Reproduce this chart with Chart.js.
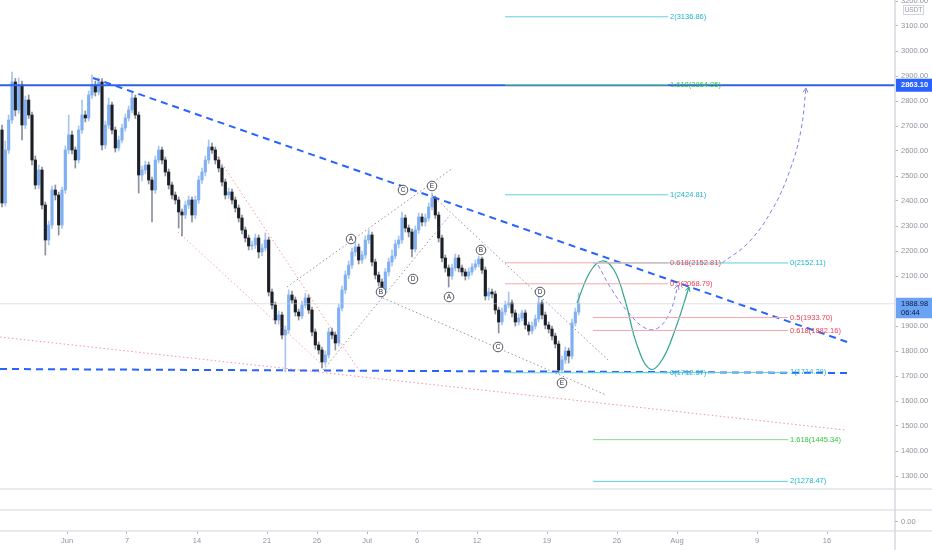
<!DOCTYPE html>
<html>
<head>
  <meta charset="UTF-8">
  <title>ETH / USDT 8h</title>
  <script src="https://cdn.jsdelivr.net/npm/chart.js"></script>
  <style>
    html, body { margin: 0; padding: 0; background: #fff; }
    #wrap { position: relative; width: 932px; height: 550px; }
  </style>
</head>
<body>
<div id="wrap"><canvas id="chart"></canvas></div>
<script>
// 8h candles, x value = days since 1 Jun
const firstDay = -6.5;
const barStep = 1 / 3;
const firstOpen = 2684;
const closes = [
  2392, 2604, 2724, 2876, 2764, 2864, 2704, 2804, 2744, 2564,
  2464, 2524, 2384, 2244, 2304, 2444, 2424, 2304, 2444, 2604,
  2664, 2604, 2564, 2684, 2744, 2732, 2824, 2864, 2836, 2876,
  2624, 2704, 2784, 2684, 2612, 2644, 2692, 2732, 2764, 2812,
  2744, 2504, 2524, 2544, 2484, 2444, 2564, 2604, 2564, 2516,
  2464, 2424, 2404, 2356, 2344, 2384, 2404, 2344, 2404, 2484,
  2516, 2564, 2616, 2604, 2564, 2532, 2476, 2424, 2436, 2404,
  2372, 2332, 2284, 2252, 2220, 2224, 2252, 2196, 2212, 2244,
  2036, 1984, 1924, 1944, 1864, 1884, 2024, 2004, 1956, 1940,
  1984, 2012, 1964, 1876, 1824, 1804, 1756, 1784, 1876, 1864,
  1832, 1972, 2044, 2104, 2144, 2196, 2216, 2164, 2184, 2244,
  2264, 2156, 2104, 2076, 2044, 2116, 2156, 2180, 2228, 2244,
  2332, 2292, 2276, 2208, 2284, 2336, 2316, 2332, 2376, 2412,
  2344, 2252, 2172, 2132, 2100, 2132, 2172, 2132, 2116, 2100,
  2116, 2136, 2148, 2168, 2124, 2020, 2036, 2028, 1964, 1916,
  1956, 1984, 1992, 1952, 1916, 1932, 1952, 1904, 1880, 1900,
  1928, 1992, 1944, 1904, 1888, 1860, 1828, 1724, 1764, 1800,
  1780, 1912, 1956, 1988.98
];
const highs = [
  2704, 2640, 2744, 2916, 2890, 2892, 2880, 2820, 2824, 2756,
  2580, 2544, 2536, 2396, 2320, 2460, 2464, 2436, 2456, 2620,
  2744, 2680, 2616, 2700, 2804, 2760, 2840, 2904, 2880, 2892,
  2890, 2720, 2812, 2796, 2696, 2660, 2708, 2748, 2780, 2832,
  2824, 2756, 2540, 2560, 2556, 2496, 2580, 2620, 2616, 2576,
  2528, 2476, 2436, 2416, 2368, 2400, 2420, 2416, 2420, 2500,
  2532, 2580, 2644, 2632, 2616, 2576, 2544, 2488, 2452, 2448,
  2416, 2384, 2344, 2296, 2264, 2240, 2268, 2264, 2228, 2272,
  2256, 2048, 1996, 1960, 1956, 1900, 2044, 2040, 2016, 1968,
  2000, 2030, 2024, 1976, 1888, 1836, 1816, 1800, 1892, 1892,
  1876, 1988, 2060, 2120, 2160, 2212, 2236, 2228, 2200, 2260,
  2284, 2276, 2168, 2116, 2088, 2130, 2172, 2204, 2244, 2260,
  2356, 2344, 2304, 2288, 2300, 2352, 2350, 2348, 2392, 2432,
  2420, 2356, 2264, 2184, 2144, 2148, 2188, 2184, 2144, 2128,
  2132, 2150, 2164, 2180, 2176, 2136, 2052, 2048, 2040, 1976,
  1972, 2000, 2036, 2004, 1964, 1948, 1964, 1964, 1916, 1916,
  1944, 2016, 2004, 1956, 1916, 1900, 1872, 1840, 1780, 1816,
  1812, 1928, 1972, 2032
];
const lows = [
  2376, 2380, 2590, 2710, 2740, 2750, 2644, 2690, 2730, 2544,
  2448, 2450, 2368, 2184, 2224, 2290, 2404, 2264, 2290, 2430,
  2590, 2588, 2532, 2552, 2670, 2716, 2720, 2810, 2820, 2824,
  2604, 2610, 2690, 2668, 2596, 2600, 2632, 2680, 2720, 2752,
  2730, 2432, 2480, 2508, 2468, 2316, 2430, 2552, 2548, 2500,
  2448, 2408, 2388, 2292, 2260, 2330, 2370, 2316, 2330, 2390,
  2470, 2500, 2550, 2590, 2548, 2516, 2460, 2408, 2410, 2388,
  2356, 2316, 2268, 2236, 2204, 2204, 2210, 2172, 2180, 2200,
  2020, 1968, 1908, 1910, 1848, 1716, 1870, 1990, 1940, 1924,
  1928, 1972, 1950, 1860, 1808, 1788, 1732, 1744, 1772, 1848,
  1804, 1820, 1960, 2030, 2090, 2130, 2180, 2148, 2150, 2170,
  2230, 2140, 2088, 2060, 2016, 2030, 2100, 2140, 2168, 2212,
  2230, 2276, 2256, 2176, 2196, 2270, 2300, 2300, 2320, 2364,
  2330, 2236, 2156, 2116, 2056, 2086, 2120, 2116, 2100, 2084,
  2088, 2104, 2124, 2136, 2110, 2004, 2004, 2012, 1948, 1872,
  1904, 1944, 1972, 1936, 1900, 1904, 1920, 1888, 1864, 1868,
  1888, 1916, 1928, 1888, 1872, 1844, 1812, 1712, 1712, 1750,
  1752, 1768, 1900, 1944
];

// axes
const dayMin = -6.7, dayMax = 82.8;
const priceMin = 1080, priceMax = 3204;
const tickDays = [0, 6, 13, 20, 25, 30, 35, 41, 48, 55, 61, 69, 76];
const tickLabels = ['Jun', '7', '14', '21', '26', 'Jul', '6', '12', '19', '26', 'Aug', '9', '16'];
const priceTicks = [1300, 1400, 1500, 1600, 1700, 1800, 1900, 2000, 2100, 2200, 2300, 2400, 2500, 2600, 2700, 2800, 2900, 3000, 3100, 3200];
const lastPrice = 1988.98;
const lastTime = '06:44';
const resistance = 2863.10;

// drawings, [day, price]
const downTrend = [[2.6, 2892], [78.3, 1832]];
const supportLine = [[-6.7, 1728], [78.3, 1712]];
const lowerDotted = [[-6.7, 1856], [77.8, 1484]];
const pinkChannel1 = [[14.6, 2604], [29.3, 1716]];
const pinkChannel2 = [[11.1, 2276], [26.3, 1716]];
const waveChannels = [
  [[22, 2056], [38.6, 2532]],
  [[25.6, 1724], [38.3, 2344]],
  [[31.6, 2012], [53.9, 1624]],
  [[36.5, 2424], [54.1, 1764]]
];
const waveLetters = ['A', 'B', 'C', 'D', 'E', 'A', 'B', 'C', 'D', 'E'];
const waveDays = [28.4, 31.4, 33.6, 34.6, 36.5, 38.2, 41.4, 43.1, 47.3, 49.5];
const wavePrices = [2248, 2036, 2444, 2088, 2460, 2016, 2204, 1816, 2036, 1672];

const fibASpan = [43.8, 60.1];
const fibALevels = ['2', '1.618', '1', '0.618', '0.5', '0'];
const fibAPrices = [3136.86, 2864.85, 2424.81, 2152.81, 2068.79, 1712.97];
const fibBSpan = [52.6, 72.1];
const fibBLevels = ['0', '0.5', '0.618', '1', '1.618', '2'];
const fibBPrices = [2152.11, 1933.70, 1882.16, 1714.29, 1445.34, 1278.47];

const tealPath = [[51, 1992], [52.3, 2116], [53.5, 2160], [54.7, 2124], [55.8, 2004], [57, 1824], [58.3, 1728], [59.5, 1764], [60.8, 1884], [62.2, 2056]];
const dashPath1 = [[53.1, 2144], [54.5, 2044], [56.1, 1956], [57.8, 1892], [59.1, 1892], [60.3, 1956], [61.1, 2064]];
const dashPath2 = [[65.5, 2152], [68.1, 2232], [70.5, 2364], [72.3, 2524], [73.4, 2684], [73.9, 2852]];

const opens = closes.map((c, i) => i === 0 ? firstOpen : closes[i - 1]);
const bull = i => closes[i] >= opens[i];

const FONT = '"Liberation Sans", Arial, sans-serif';
const CYAN = '#5fcfe0', CYAN_T = '#1eb4cc';
const GREEN = '#7fe07f', GREEN_T = '#2fc93f';
const RED = '#f6a5ad', RED_T = '#ef3e50';

function levelColors(lv) {
  if (lv === '0.5' || lv === '0.618') return [RED, RED_T];
  if (lv === '1.618') return [GREEN, GREEN_T];
  return [CYAN, CYAN_T];
}

function line(points, color, width, dash, tension) {
  return {
    type: 'line',
    data: points.map(p => ({ x: p[0], y: p[1] })),
    borderColor: color,
    borderWidth: width,
    borderDash: dash || [],
    pointRadius: 0,
    tension: tension || 0,
    fill: false,
    order: 1
  };
}

const datasets = [];
datasets.push({
  type: 'bar',
  data: closes.map((c, i) => ({ x: firstDay + i * barStep, y: [lows[i], highs[i]] })),
  backgroundColor: c => bull(c.dataIndex) ? '#a9c4ee' : '#8a8f99',
  barThickness: 1,
  grouped: false,
  order: 20
});
datasets.push({
  type: 'bar',
  data: closes.map((c, i) => ({ x: firstDay + i * barStep, y: [opens[i], c] })),
  backgroundColor: c => bull(c.dataIndex) ? '#7fb0f3' : '#1c1f26',
  barThickness: 2.5,
  minBarLength: 1,
  grouped: false,
  order: 19
});

datasets.push(line([[dayMin, lastPrice], [dayMax, lastPrice]], 'rgba(200,205,215,0.55)', 1));
datasets.push(line(lowerDotted, 'rgba(242,54,69,0.55)', 1, [1.5, 2.5]));
datasets.push(line(pinkChannel1, 'rgba(242,54,69,0.5)', 1, [1.5, 2.5]));
datasets.push(line(pinkChannel2, 'rgba(242,54,69,0.45)', 1, [1.5, 2.5]));
waveChannels.forEach(w => datasets.push(line(w, 'rgba(110,114,125,0.75)', 1, [1.5, 2.5])));

fibALevels.forEach((lv, i) => datasets.push(line([[fibASpan[0], fibAPrices[i]], [fibASpan[1], fibAPrices[i]]], levelColors(lv)[0], 1)));
fibBLevels.forEach((lv, i) => datasets.push(line([[fibBSpan[0], fibBPrices[i]], [fibBSpan[1], fibBPrices[i]]], levelColors(lv)[0], 1)));

datasets.push(line([[dayMin, resistance], [dayMax, resistance]], '#2f62e8', 2));
datasets.push(line(downTrend, '#2962ff', 2, [7, 5]));
datasets.push(line(supportLine, '#2962ff', 2, [7, 5]));
datasets.push(line(tealPath, '#2fa58c', 1.2, [], 0.4));
datasets.push(line(dashPath1, '#7c80f2', 1, [4, 3], 0.4));
datasets.push(line(dashPath2, '#7c80f2', 1, [4, 3], 0.4));

function arrowHead(ctx, x1, y1, x2, y2, color) {
  const a = Math.atan2(y2 - y1, x2 - x1);
  const L = 5;
  ctx.setLineDash([]);
  ctx.strokeStyle = color;
  ctx.lineWidth = 1;
  ctx.beginPath();
  ctx.moveTo(x2 - L * Math.cos(a - 0.5), y2 - L * Math.sin(a - 0.5));
  ctx.lineTo(x2, y2);
  ctx.lineTo(x2 - L * Math.cos(a + 0.5), y2 - L * Math.sin(a + 0.5));
  ctx.stroke();
}

const overlay = {
  id: 'overlay',
  afterDatasetsDraw(chart) {
    const { ctx, scales: { x, y } } = chart;
    ctx.save();
    ctx.textBaseline = 'middle';
    ctx.textAlign = 'left';
    ctx.font = '7.5px ' + FONT;
    fibALevels.forEach((lv, i) => {
      ctx.fillStyle = levelColors(lv)[1];
      ctx.fillText(lv + '(' + fibAPrices[i].toFixed(2) + ')', x.getPixelForValue(fibASpan[1]) + 2, y.getPixelForValue(fibAPrices[i]));
    });
    fibBLevels.forEach((lv, i) => {
      ctx.fillStyle = levelColors(lv)[1];
      ctx.fillText(lv + '(' + fibBPrices[i].toFixed(2) + ')', x.getPixelForValue(fibBSpan[1]) + 2, y.getPixelForValue(fibBPrices[i]));
    });

    // elliott wave marks
    ctx.textAlign = 'center';
    ctx.font = '6.5px ' + FONT;
    waveLetters.forEach((l, i) => {
      const cx = x.getPixelForValue(waveDays[i]), cy = y.getPixelForValue(wavePrices[i]);
      ctx.beginPath();
      ctx.arc(cx, cy, 4.8, 0, Math.PI * 2);
      ctx.fillStyle = '#fff';
      ctx.fill();
      ctx.strokeStyle = '#2a2e39';
      ctx.lineWidth = 0.8;
      ctx.stroke();
      ctx.fillStyle = '#2a2e39';
      ctx.fillText(l, cx, cy + 0.3);
    });

    const px = p => [x.getPixelForValue(p[0]), y.getPixelForValue(p[1])];
    [[tealPath, '#2fa58c'], [dashPath1, '#7c80f2'], [dashPath2, '#7c80f2']].forEach(([path, col]) => {
      const a = px(path[path.length - 2]), b = px(path[path.length - 1]);
      arrowHead(ctx, a[0], a[1], b[0], b[1], col);
    });
    ctx.restore();
  },
  afterDraw(chart) {
    const { ctx, chartArea, scales: { y } } = chart;
    const W = chart.width, H = chart.height;
    ctx.save();
    // pane separators
    ctx.strokeStyle = '#e0e3eb';
    ctx.lineWidth = 1.5;
    [chartArea.bottom - 42, chartArea.bottom - 21, chartArea.bottom].forEach(yy => {
      ctx.beginPath();
      ctx.moveTo(0, yy);
      ctx.lineTo(W, yy);
      ctx.stroke();
    });
    ctx.strokeStyle = '#d6d9e0';
    ctx.beginPath();
    ctx.moveTo(chartArea.right, 0);
    ctx.lineTo(chartArea.right, H);
    ctx.stroke();

    ctx.font = '7.5px ' + FONT;
    ctx.textBaseline = 'middle';
    ctx.textAlign = 'left';
    const lx = chartArea.right + 6;

    // empty indicator pane scale
    const zy = chartArea.bottom - 9.5;
    ctx.strokeStyle = '#b2b5be';
    ctx.lineWidth = 1;
    ctx.beginPath();
    ctx.moveTo(chartArea.right, zy);
    ctx.lineTo(chartArea.right + 3, zy);
    ctx.stroke();
    ctx.fillStyle = '#8f939c';
    ctx.fillText('0.00', lx, zy);

    // USDT unit box
    ctx.strokeStyle = '#d1d4dc';
    ctx.strokeRect(chartArea.right + 8.5, 5.5, 20, 9);
    ctx.fillStyle = '#9598a1';
    ctx.font = '6.5px ' + FONT;
    ctx.textAlign = 'center';
    ctx.fillText('USDT', chartArea.right + 18.5, 10.2);

    // resistance label
    ctx.textAlign = 'left';
    const ry = y.getPixelForValue(resistance);
    ctx.fillStyle = '#2962ff';
    ctx.fillRect(chartArea.right + 1, ry - 6.5, W - chartArea.right, 13);
    ctx.fillStyle = '#fff';
    ctx.font = 'bold 7.5px ' + FONT;
    ctx.fillText(resistance.toFixed(2), lx, ry);

    // last price label
    const ly = y.getPixelForValue(lastPrice);
    ctx.fillStyle = '#6aa2f4';
    ctx.fillRect(chartArea.right + 1, ly - 6, W - chartArea.right, 20.5);
    ctx.fillStyle = '#0e1a3a';
    ctx.font = '7.5px ' + FONT;
    ctx.fillText(lastPrice.toFixed(2), lx, ly);
    ctx.fillText(lastTime, lx, ly + 9.5);
    ctx.restore();
  }
};

new Chart(document.getElementById('chart'), {
  type: 'bar',
  data: { datasets },
  options: {
    responsive: true,
    maintainAspectRatio: false,
    animation: false,
    events: [],
    layout: { padding: 0 },
    plugins: { legend: { display: false }, tooltip: { enabled: false } },
    scales: {
      x: {
        type: 'linear',
        min: dayMin,
        max: dayMax,
        offset: false,
        afterBuildTicks: s => { s.ticks = tickDays.map(v => ({ value: v })); },
        afterFit: s => { s.height = 19; s.paddingLeft = 0; s.paddingRight = 0; },
        ticks: {
          autoSkip: false,
          maxRotation: 0,
          padding: 2,
          color: '#8f939c',
          font: { family: FONT, size: 7.5 },
          callback: (v, i) => tickLabels[i]
        },
        grid: { drawOnChartArea: false, offset: false, tickLength: 3, color: '#b2b5be' },
        border: { display: false }
      },
      y: {
        type: 'linear',
        position: 'right',
        min: priceMin,
        max: priceMax,
        afterBuildTicks: s => { s.ticks = priceTicks.map(v => ({ value: v })); },
        afterFit: s => { s.width = 37; s.paddingTop = 0; s.paddingBottom = 0; },
        ticks: {
          autoSkip: false,
          padding: 3,
          color: '#8f939c',
          font: { family: FONT, size: 7.5 },
          callback: v => Number(v).toFixed(2)
        },
        grid: { drawOnChartArea: false, offset: false, tickLength: 3, color: '#b2b5be' },
        border: { display: false }
      }
    }
  },
  plugins: [overlay]
});
</script>
</body>
</html>
